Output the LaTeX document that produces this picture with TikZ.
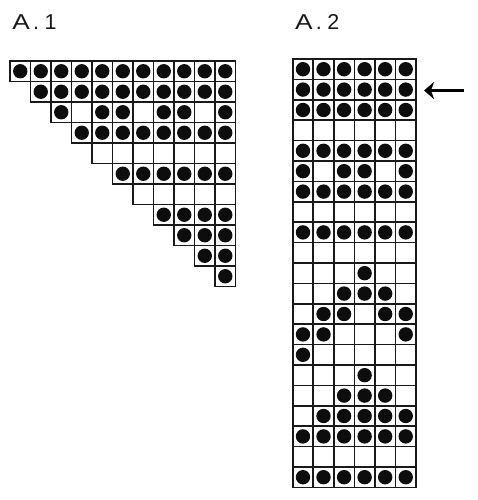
\documentclass[tikz,border=0pt]{standalone}
\usepackage{fontspec}
\usepackage{graphicx}
\setmainfont{Liberation Sans}
\usetikzlibrary{arrows.meta}
\newcommand\titlesize{\fontsize{21.5pt}{25pt}\selectfont}
\newcommand\wideA{\scalebox{1.22}[1]{A}}
\tikzset{
  cellbox/.style={draw=black!90, line width=1.7pt},
  dot/.style={fill=black!95},
  title/.style={anchor=base west, inner sep=0pt, text=black!90},
  markarrow/.style={line width=2.3pt, -{Stealth[length=10pt, width=17pt, inset=3pt]}}
}
\begin{document}
\begin{tikzpicture}[x=1pt, y=-1pt]
\useasboundingbox (0,0) rectangle (477,500);
% titles
\node[title] (t1) at (12.3,30) {\titlesize\wideA\kern3.2pt.\kern5.4pt1};
\node[title] (t2) at (295,30) {\titlesize\wideA\kern3.2pt.\kern5.4pt2};
% A.1 chart
\def\sA{20.5}
\foreach \r/\pat in {0/{1,1,1,1,1,1,1,1,1,1,1}, 1/{1,1,1,1,1,1,1,1,1,1}, 2/{1,0,1,1,0,1,1,0,1}, 3/{1,1,1,1,1,1,1,1}, 4/{0,0,0,0,0,0,0}, 5/{1,1,1,1,1,1}, 6/{0,0,0,0,0}, 7/{1,1,1,1}, 8/{1,1,1}, 9/{1,1}, 10/{1}} {
  \foreach \v [count=\i from 0] in \pat {
    \pgfmathsetmacro\xx{10+(\r+\i)*\sA}
    \pgfmathsetmacro\yy{61+\r*\sA}
    \draw[cellbox] (\xx,\yy) rectangle ++(\sA,\sA);
    \ifnum\v=1 \fill[dot] (\xx+\sA/2,\yy+\sA/2) circle (7.2pt); \fi
  }
}
% A.2 chart
\def\wB{20.55}
\def\hB{20.4}
\foreach \r/\pat in {0/{1,1,1,1,1,1}, 1/{1,1,1,1,1,1}, 2/{1,1,1,1,1,1}, 3/{0,0,0,0,0,0}, 4/{1,1,1,1,1,1}, 5/{1,0,1,1,0,1}, 6/{1,1,1,1,1,1}, 7/{0,0,0,0,0,0}, 8/{1,1,1,1,1,1}, 9/{0,0,0,0,0,0}, 10/{0,0,0,1,0,0}, 11/{0,0,1,1,1,0}, 12/{0,1,1,0,1,1}, 13/{1,1,0,0,0,1}, 14/{1,0,0,0,0,0}, 15/{0,0,0,1,0,0}, 16/{0,0,1,1,1,0}, 17/{0,1,1,1,1,1}, 18/{1,1,1,1,1,1}, 19/{0,0,0,0,0,0}, 20/{1,1,1,1,1,1}} {
  \foreach \v [count=\i from 0] in \pat {
    \pgfmathsetmacro\xx{292.7+\i*\wB}
    \pgfmathsetmacro\yy{59+\r*\hB}
    \draw[cellbox] (\xx,\yy) rectangle ++(\wB,\hB);
    \ifnum\v=1 \fill[dot] (\xx+\wB/2,\yy+\hB/2) circle (7.2pt); \fi
  }
}
% arrow
\coordinate (arrowtail) at (464,90.5);
\coordinate (arrowtip) at (424,90.5);
\draw[markarrow] (arrowtail) -- (arrowtip);
\end{tikzpicture}
\end{document}
